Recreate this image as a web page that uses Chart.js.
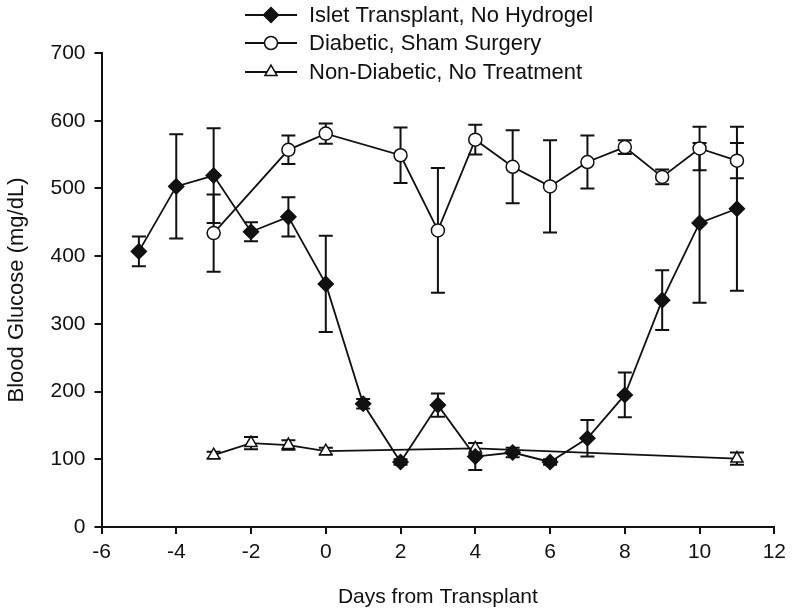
<!DOCTYPE html>
<html>
<head>
<meta charset="utf-8">
<style>
  html, body { margin: 0; padding: 0; background: #fff; }
  #wrap { position: relative; width: 792px; height: 613px; }
</style>
<script src="https://cdn.jsdelivr.net/npm/chart.js@4.4.1/dist/chart.umd.min.js"></script>
</head>
<body>
<div id="wrap"><canvas id="chart"></canvas></div>
<script>
// days from transplant, mean glucose (mg/dL) and error bar half-lengths
const isletDays = [-5, -4, -3, -2, -1, 0, 1, 2, 3, 4, 5, 6, 7, 8, 9, 10, 11];
const isletMean = [407, 503, 519, 436, 458, 359, 182, 96, 180, 104, 110, 96, 131, 195, 335, 449, 470];
const isletErr  = [22, 77, 70, 14, 29, 71, 7, 4, 17, 20, 7, 4, 27, 33, 44, 118, 121];

const shamDays = [-3, -1, 0, 2, 3, 4, 5, 6, 7, 8, 9, 10, 11];
const shamMean = [434, 557, 581, 549, 438, 572, 532, 503, 539, 561, 517, 559, 541];
const shamErr  = [57, 21, 15, 41, 92, 22, 54, 68, 39, 10, 11, 32, 26];

const nonDays = [-3, -2, -1, 0, 4, 11];
const nonMean = [106, 124, 121, 112, 116, 101];
const nonErr  = [5, 9, 7, 5, 8, 9];

const seriesNames = ["Islet Transplant, No Hydrogel", "Diabetic, Sham Surgery", "Non-Diabetic, No Treatment"];

const xTicks = [-6, -4, -2, 0, 2, 4, 6, 8, 10, 12];
const yTicks = [0, 100, 200, 300, 400, 500, 600, 700];

const INK = "#111";
const FONT = "'Liberation Sans', Arial, sans-serif";
const CAP = 7;

function pts(days, vals) {
  return days.map((d, i) => ({ x: d, y: vals[i] }));
}

function marker(ctx, style, x, y, r) {
  ctx.beginPath();
  if (style === "rectRot") {
    ctx.moveTo(x, y - r); ctx.lineTo(x + r, y); ctx.lineTo(x, y + r); ctx.lineTo(x - r, y);
    ctx.closePath();
  } else if (style === "triangle") {
    const h = r * Math.sqrt(3) / 2;
    ctx.moveTo(x, y - r); ctx.lineTo(x + h, y + r / 2); ctx.lineTo(x - h, y + r / 2);
    ctx.closePath();
  } else {
    ctx.arc(x, y, r, 0, Math.PI * 2);
  }
  ctx.fill();
  ctx.stroke();
}

// whiskers go under the markers
const errorBars = {
  id: "errorBars",
  beforeDatasetsDraw(chart) {
    const ctx = chart.ctx;
    const xs = chart.scales.x, ys = chart.scales.y;
    ctx.save();
    ctx.strokeStyle = INK;
    ctx.lineWidth = 2;
    chart.data.datasets.forEach(ds => {
      ds.data.forEach((p, i) => {
        const e = ds.errors[i];
        const px = xs.getPixelForValue(p.x);
        const top = ys.getPixelForValue(p.y + e);
        const bot = ys.getPixelForValue(p.y - e);
        ctx.beginPath();
        ctx.moveTo(px, top); ctx.lineTo(px, bot);
        ctx.moveTo(px - CAP, top); ctx.lineTo(px + CAP, top);
        ctx.moveTo(px - CAP, bot); ctx.lineTo(px + CAP, bot);
        ctx.stroke();
      });
    });
    ctx.restore();
  }
};

// legend sits over the top of the plot, like the original figure
const topLegend = {
  id: "topLegend",
  afterDraw(chart) {
    const ctx = chart.ctx;
    const rows = [15, 43, 72];
    ctx.save();
    ctx.font = "22px " + FONT;
    ctx.textBaseline = "middle";
    chart.data.datasets.forEach((ds, i) => {
      const y = rows[i];
      ctx.strokeStyle = INK;
      ctx.lineWidth = 2;
      ctx.beginPath();
      ctx.moveTo(245, y); ctx.lineTo(297, y);
      ctx.stroke();
      ctx.fillStyle = ds.pointBackgroundColor;
      ctx.lineWidth = 1.5;
      marker(ctx, ds.pointStyle, 271, y, ds.pointRadius);
      ctx.fillStyle = INK;
      ctx.fillText(ds.label, 309, y + 1);
    });
    ctx.restore();
  }
};

const datasets = [
  { label: seriesNames[0], data: pts(isletDays, isletMean), errors: isletErr,
    pointStyle: "rectRot", pointRadius: 7.5, pointBackgroundColor: INK },
  { label: seriesNames[1], data: pts(shamDays, shamMean), errors: shamErr,
    pointStyle: "circle", pointRadius: 6.5, pointBackgroundColor: "#fff" },
  { label: seriesNames[2], data: pts(nonDays, nonMean), errors: nonErr,
    pointStyle: "triangle", pointRadius: 7, pointBackgroundColor: "#fff" },
].map(d => Object.assign({
  borderColor: INK, borderWidth: 1.8, pointBorderColor: INK, pointBorderWidth: 1.5,
  pointHoverRadius: d.pointRadius, tension: 0, fill: false
}, d));

new Chart(document.getElementById("chart"), {
  type: "line",
  data: { datasets },
  plugins: [errorBars, topLegend],
  options: {
    responsive: true,
    maintainAspectRatio: false,
    animation: false,
    layout: { padding: { top: 53, right: 15, left: 0, bottom: 0 } },
    plugins: { legend: { display: false }, tooltip: { enabled: false } },
    scales: {
      x: {
        type: "linear", min: -6, max: 12,
        afterBuildTicks: s => { s.ticks = xTicks.map(v => ({ value: v })); },
        afterFit: s => { s.height = 86; },
        grid: { drawOnChartArea: false, drawTicks: true, tickLength: 7, color: INK, lineWidth: 2 },
        border: { display: true, color: INK, width: 2 },
        ticks: { color: INK, padding: 6, font: { family: FONT, size: 21 }, maxRotation: 0 },
        title: { display: true, text: "Days from Transplant", color: INK,
                 font: { family: FONT, size: 21 }, padding: { top: 0, bottom: 3 } }
      },
      y: {
        type: "linear", min: 0, max: 700,
        afterBuildTicks: s => { s.ticks = yTicks.map(v => ({ value: v })); },
        afterFit: s => { s.width = 101.5; },
        grid: { drawOnChartArea: false, drawTicks: true, tickLength: 7, color: INK, lineWidth: 2 },
        border: { display: true, color: INK, width: 2 },
        ticks: { color: INK, padding: 9, font: { family: FONT, size: 21 } },
        title: { display: true, text: "Blood Glucose (mg/dL)", color: INK,
                 font: { family: FONT, size: 22 }, padding: { top: 4, bottom: 0 } }
      }
    }
  }
});
</script>
</body>
</html>
